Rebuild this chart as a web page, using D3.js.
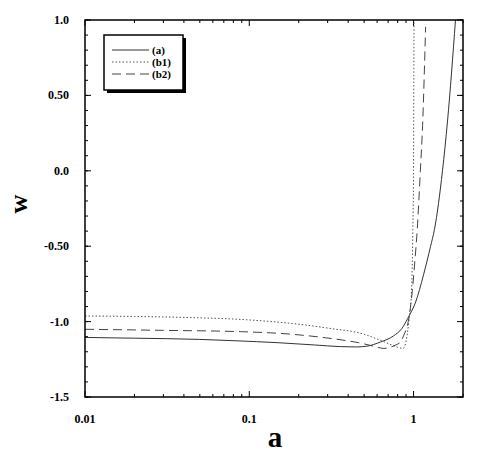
<!DOCTYPE html>
<html>
<head>
<meta charset="utf-8">
<script src="https://cdn.jsdelivr.net/npm/d3@7/dist/d3.min.js"></script>
<style>
  body { margin: 0; background: #fff; }
  text { font-family: "Liberation Serif", "Times New Roman", serif; font-weight: bold; }
</style>
</head>
<body>
<div id="chart-container"></div>
<script>
// curve (a): solid
var aX = [0.01, 0.02, 0.05, 0.082, 0.15, 0.25, 0.36, 0.45, 0.52, 0.63, 0.755, 0.85, 0.92, 1.03, 1.15, 1.27, 1.34, 1.5, 1.61, 1.8];
var aW = [-1.105, -1.11, -1.118, -1.127, -1.14, -1.155, -1.166, -1.168, -1.163, -1.135, -1.095, -1.045, -0.98, -0.87, -0.69, -0.5, -0.39, 0.0, 0.33, 1.0];

// curve (b1): dotted
var b1X = [0.01, 0.02, 0.05, 0.08, 0.12, 0.195, 0.31, 0.5, 0.6, 0.7, 0.8, 0.865, 0.936, 0.972, 0.99, 1.0, 1.003, 1.007];
var b1W = [-0.963, -0.966, -0.975, -0.983, -0.995, -1.016, -1.045, -1.084, -1.115, -1.145, -1.17, -1.178, -1.0, -0.8, -0.39, 0.0, 0.5, 1.0];

// curve (b2): dashed
var b2X = [0.01, 0.03, 0.09, 0.182, 0.29, 0.367, 0.464, 0.586, 0.66, 0.72, 0.78, 0.833, 0.873, 0.928, 0.982, 1.014, 1.053, 1.10, 1.135, 1.184];
var b2W = [-1.051, -1.058, -1.067, -1.084, -1.107, -1.122, -1.14, -1.166, -1.178, -1.17, -1.155, -1.135, -1.09, -1.0, -0.8, -0.625, -0.39, 0.0, 0.3, 0.954];

var yTicks = [1.0, 0.5, 0.0, -0.5, -1.0, -1.5];
var yTickLabels = ["1.0", "0.50", "0.0", "-0.50", "-1.0", "-1.5"];
var xTicks = [0.01, 0.1, 1];
var xTickLabels = ["0.01", "0.1", "1"];
var legendLabels = ["(a)", "(b1)", "(b2)"];

if (document.addEventListener) {
  document.addEventListener('DOMContentLoaded', function() {
    visualise();
  });
}

function visualise() {
  const svgWidth = 485;
  const svgHeight = 457;
  const margin = {top: 20, left: 85, bottom: 60, right: 22};
  const w = svgWidth - margin.left - margin.right;
  const h = svgHeight - margin.top - margin.bottom;

  const svg = d3.select('#chart-container')
    .append('svg')
    .attr('width', svgWidth)
    .attr('height', svgHeight);

  const chart = svg.append('g')
    .attr('transform', 'translate(' + margin.left + ',' + margin.top + ')');

  var x = d3.scaleLog().domain([0.01, 2]).range([0, w]);
  var y = d3.scaleLinear().domain([-1.5, 1.0]).range([h, 0]);

  // minor ticks
  var xMinor = [];
  [0.01, 0.1, 1].forEach(function(d) {
    for (var k = 2; k <= 9; k++) { if (d * k <= 2) xMinor.push(d * k); }
  });
  var yMinor = d3.range(-1.5, 1.001, 0.1).map(function(v) { return +v.toFixed(2); });

  var ticks = chart.append('g').attr('stroke', '#000').attr('stroke-width', 1);
  xMinor.forEach(function(d) {
    ticks.append('line').attr('x1', x(d)).attr('x2', x(d)).attr('y1', h).attr('y2', h - 3);
    ticks.append('line').attr('x1', x(d)).attr('x2', x(d)).attr('y1', 0).attr('y2', 3);
  });
  xTicks.forEach(function(d) {
    ticks.append('line').attr('x1', x(d)).attr('x2', x(d)).attr('y1', h).attr('y2', h - 6);
    ticks.append('line').attr('x1', x(d)).attr('x2', x(d)).attr('y1', 0).attr('y2', 6);
  });
  yMinor.forEach(function(d) {
    ticks.append('line').attr('x1', 0).attr('x2', 3).attr('y1', y(d)).attr('y2', y(d));
    ticks.append('line').attr('x1', w).attr('x2', w - 3).attr('y1', y(d)).attr('y2', y(d));
  });
  yTicks.forEach(function(d) {
    ticks.append('line').attr('x1', 0).attr('x2', 6).attr('y1', y(d)).attr('y2', y(d));
    ticks.append('line').attr('x1', w).attr('x2', w - 6).attr('y1', y(d)).attr('y2', y(d));
  });

  // tick labels
  chart.selectAll('.ylab')
    .data(yTicks)
    .enter()
    .append('text')
    .attr('x', -16)
    .attr('y', function(d) { return y(d) + 4; })
    .attr('text-anchor', 'end')
    .attr('font-size', 12)
    .text(function(d, i) { return yTickLabels[i]; });

  chart.selectAll('.xlab')
    .data(xTicks)
    .enter()
    .append('text')
    .attr('x', function(d) { return x(d); })
    .attr('y', h + 26)
    .attr('text-anchor', 'middle')
    .attr('font-size', 12)
    .text(function(d, i) { return xTickLabels[i]; });

  // axis titles
  svg.append('text')
    .attr('x', 275)
    .attr('y', 447)
    .attr('text-anchor', 'middle')
    .attr('font-size', 29)
    .text('a');

  svg.append('text')
    .attr('transform', 'translate(27,204) rotate(-90)')
    .attr('text-anchor', 'middle')
    .attr('font-size', 26)
    .text('w');

  // curves
  var line = d3.line()
    .x(function(d) { return x(d[0]); })
    .y(function(d) { return y(d[1]); })
    .curve(d3.curveMonotoneX);

  var series = [
    {xs: aX, ws: aW, dash: null, color: '#333'},
    {xs: b1X, ws: b1W, dash: '1.5,2', color: '#555'},
    {xs: b2X, ws: b2W, dash: '9,5', color: '#444'}
  ];

  chart.append('clipPath').attr('id', 'clip')
    .append('rect').attr('width', w).attr('height', h);

  series.forEach(function(s) {
    chart.append('path')
      .datum(s.xs.map(function(v, i) { return [v, s.ws[i]]; }))
      .attr('clip-path', 'url(#clip)')
      .attr('fill', 'none')
      .attr('stroke', s.color)
      .attr('stroke-width', 1)
      .attr('stroke-dasharray', s.dash)
      .attr('d', line);
  });

  // frame
  chart.append('rect')
    .attr('width', w)
    .attr('height', h)
    .attr('fill', 'none')
    .attr('stroke', '#000')
    .attr('stroke-width', 1.5);

  // legend
  var lg = svg.append('g').attr('transform', 'translate(104,35)');
  lg.append('rect').attr('x', 3).attr('y', 3).attr('width', 79).attr('height', 55).attr('fill', '#000');
  lg.append('rect').attr('width', 79).attr('height', 55).attr('fill', '#fff').attr('stroke', '#000').attr('stroke-width', 1.5);

  legendLabels.forEach(function(lab, i) {
    var ly = 15 + i * 12;
    lg.append('line')
      .attr('x1', 8).attr('x2', 45)
      .attr('y1', ly).attr('y2', ly)
      .attr('stroke', series[i].color)
      .attr('stroke-width', 1)
      .attr('stroke-dasharray', series[i].dash);
    lg.append('text')
      .attr('x', 48)
      .attr('y', ly + 4)
      .attr('font-size', 11)
      .text(lab);
  });
}
</script>
</body>
</html>
